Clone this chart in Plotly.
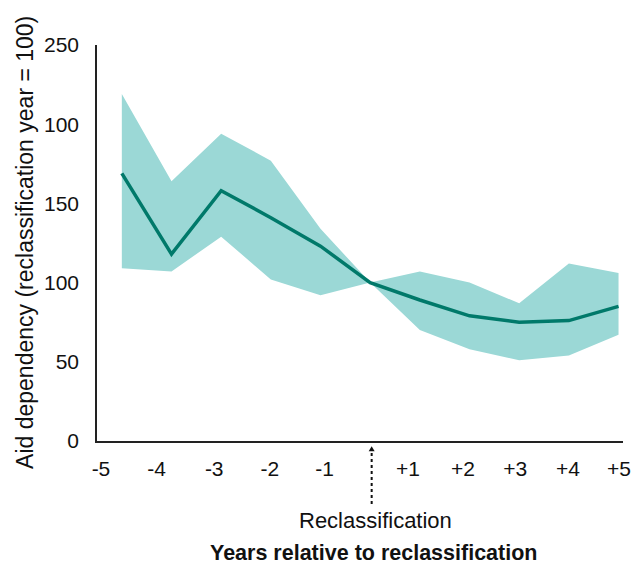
import plotly.graph_objects as go

years = [-5, -4, -3, -2, -1, 0, 1, 2, 3, 4, 5]
mean_line = [169, 118, 158, 141, 123, 100, 89, 79, 75, 76, 85]
upper = [219, 164, 194, 177, 134, 100, 107, 100, 87, 112, 106]
lower = [109, 107, 129, 102, 92, 100, 70, 58, 51, 54, 67]

tick_labels = ["-5", "-4", "-3", "-2", "-1", "+1", "+2", "+3", "+4", "+5"]
# label positions (the source figure's labels are offset from the data points)
tick_pos = [-5.42, -4.3, -3.14, -2.02, -0.92, 0.76, 1.87, 2.92, 3.98, 5.01]

y_ticks = [0, 50, 100, 150, 200, 250]
y_ticktext = ["0", "50", "100", "150", "100", "250"]

FONT = "Liberation Sans, Arial, sans-serif"
BAND = "#9bd8d6"
LINE = "#00796a"
INK = "#111111"

fig = go.Figure()
fig.add_trace(go.Scatter(x=years, y=upper, mode="lines", line=dict(width=0, color=BAND),
                         showlegend=False, hoverinfo="skip"))
fig.add_trace(go.Scatter(x=years, y=lower, mode="lines", line=dict(width=0, color=BAND),
                         fill="tonexty", fillcolor=BAND, showlegend=False, hoverinfo="skip"))
fig.add_trace(go.Scatter(x=years, y=mean_line, mode="lines", line=dict(width=3.5, color=LINE),
                         showlegend=False))

# dotted reclassification marker below the axis
fig.add_shape(type="line", xref="x", yref="paper", x0=0.03, x1=0.03, y0=-0.03, y1=-0.16,
              line=dict(color=INK, width=2, dash="dot"))
fig.add_shape(type="path", xref="x", yref="paper",
              path="M -0.03,-0.026 L 0.09,-0.026 L 0.03,-0.0135 Z",
              fillcolor=INK, line=dict(width=0))
fig.add_annotation(x=0.11, y=-0.202, xref="x", yref="paper", text="Reclassification",
                   showarrow=False, font=dict(size=22, color=INK, family=FONT),
                   xanchor="center", yanchor="middle")
fig.add_annotation(x=0.526, y=-0.283, xref="paper", yref="paper",
                   text="<b>Years relative to reclassification</b>",
                   showarrow=False, font=dict(size=21.5, color=INK, family=FONT),
                   xanchor="center", yanchor="middle")
fig.add_annotation(x=-0.137, y=0.5025, xref="paper", yref="paper",
                   text="Aid dependency (reclassification year = 100)", textangle=-90,
                   showarrow=False, font=dict(size=23, color=INK, family=FONT),
                   xanchor="center", yanchor="middle")

fig.update_layout(
    width=635, height=565,
    margin=dict(l=97, r=12, t=45, b=124, autoexpand=False),
    paper_bgcolor="white", plot_bgcolor="white",
    font=dict(family=FONT, size=21, color=INK),
    xaxis=dict(range=[-5.5, 5.09], tickvals=tick_pos, ticktext=tick_labels,
               showgrid=False, zeroline=False, showline=True, linecolor="#222", linewidth=1.5,
               ticks="", tickfont=dict(size=21), ticklabelstandoff=8, automargin=False),
    yaxis=dict(range=[0, 250], tickvals=y_ticks, ticktext=y_ticktext,
               showgrid=False, zeroline=False, showline=True, linecolor="#222", linewidth=1.5,
               ticks="", tickfont=dict(size=21), ticklabelstandoff=12, automargin=False),
)

fig.write_html("out.html", config={"displayModeBar": False},
               post_script="document.body.style.margin='0';")
